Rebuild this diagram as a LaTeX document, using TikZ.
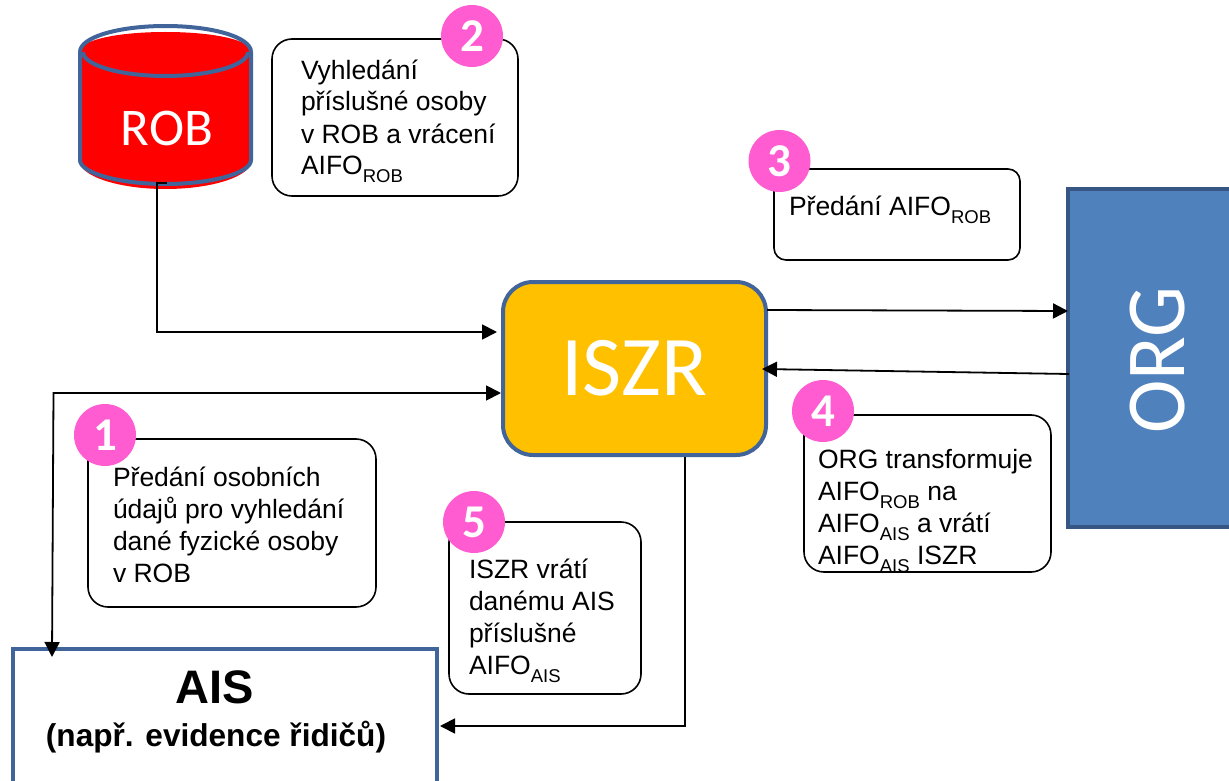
\documentclass[tikz,border=0pt]{standalone}
\usepackage{fontspec}
\setmainfont{Liberation Sans}
\newfontfamily\carl{Carlito}
\usetikzlibrary{arrows.meta,calc}
\definecolor{edgeblue}{HTML}{41659A}
\definecolor{orgblue}{HTML}{4F81BD}
\definecolor{pinkc}{HTML}{FF5CD2}
\definecolor{gold}{HTML}{FFC000}
\newcommand{\sbs}[1]{\raisebox{-8pt}{\fontsize{18.5}{18.5}\selectfont #1}}
\newcommand{\topst}{\rule{0pt}{20pt}}
\tikzset{
  x=1pt,y=-1pt,
  every node/.style={outer sep=0pt,inner sep=0pt},
  callout/.style={draw=black,line width=1.6pt,fill=white,rounded corners=20pt,anchor=north west},
  body/.style={anchor=north west,align=left,font=\fontsize{26.5}{32}\selectfont,text=black},
  badge/.style={circle,fill=pinkc,minimum size=62pt,text=white,font=\carl\bfseries\fontsize{47}{47}\selectfont},
  arr/.style={draw=black,line width=1.8pt,-{Triangle[length=15pt,width=15pt]}},
  biarr/.style={draw=black,line width=1.8pt,{Triangle[length=15pt,width=15pt]}-{Triangle[length=15pt,width=15pt]}},
  plain/.style={draw=edgeblue,line width=4pt},
}
\begin{document}
\begin{tikzpicture}
\useasboundingbox (0,0) rectangle (1229,781);
\clip (0,0) rectangle (1229,781);
% ROB cylinder
\fill[red] (79,52) -- (79,160) .. controls (79,176) and (118,189) .. (165.5,189) .. controls (213,189) and (252,176) .. (252,160) -- (252,52) .. controls (252,40) and (213,32) .. (165.5,32) .. controls (118,32) and (79,40) .. (79,52) -- cycle;
\draw[plain] (80,52) .. controls (80,37) and (119,26) .. (165.5,26) .. controls (212,26) and (251,37) .. (251,52);
\draw[plain] (83,52) .. controls (83,65) and (120,76) .. (165.5,76) .. controls (211,76) and (248,65) .. (248,52);
\draw[plain] (80,52) -- (80,160) .. controls (80,173) and (119,184) .. (165.5,184) .. controls (212,184) and (251,173) .. (251,160) -- (251,52);
\node[minimum width=174pt,minimum height=118pt,text=white,font=\carl\fontsize{53}{53}\selectfont] (rob) at (167,128) {ROB};
% Main boxes
\node[draw=edgeblue,fill=gold,line width=4pt,rounded corners=30pt,minimum width=263pt,minimum height=173pt,text=white,font=\carl\fontsize{85}{85}\selectfont] (iszr) at (634.5,368.5) {ISZR};
\node[draw=edgeblue!85!black,fill=orgblue,line width=4pt,minimum width=172pt,minimum height=338pt] (org) at (1154,358) {};
\node[rotate=90,text=white,font=\carl\fontsize{84}{84}\selectfont] (orglabel) at (1158,360) {\scalebox{.96}[1]{ORG}};
\node[draw=edgeblue,fill=white,line width=4pt,minimum width=424pt,minimum height=154pt] (ais) at (225,726) {};
\node[anchor=base,font=\bfseries\fontsize{47}{47}\selectfont] (aistitle) at (215,703) {AIS};
\node[anchor=base,font=\bfseries\fontsize{31.6}{32}\selectfont] (aissub) at (216,746) {(např. evidence řidičů)};
% Callouts
\node[callout,minimum width=246pt,minimum height=157pt] (c2) at (272,39) {};
\node[callout,rounded corners=12pt,minimum width=246pt,minimum height=91pt] (c3) at (774,169) {};
\node[callout,minimum width=247pt,minimum height=157pt] (c4) at (804,415) {};
\node[callout,minimum width=288pt,minimum height=168pt] (c1) at (88,439) {};
\node[callout,minimum width=192pt,minimum height=172pt] (c5) at (449,522) {};
% Callout text
\node[body] (t2) at (301,59) {\topst Vyhledání\\příslušné osoby\\v ROB a vrácení\\AIFO\sbs{ROB}};
\node[body] (t3) at (789,195) {\topst Předání AIFO\sbs{ROB}};
\begin{scope}
\clip (804,415) rectangle (1051,571);
\node[body] (t4) at (818,448) {\topst ORG transformuje\\AIFO\sbs{ROB} na\\AIFO\sbs{AIS} a vrátí\\AIFO\sbs{AIS} ISZR};
\end{scope}
\node[body] (t1) at (113,466) {\topst Předání osobních\\údajů pro vyhledání\\dané fyzické osoby\\v ROB};
\node[body] (t5) at (469,558) {\topst ISZR vrátí\\danému AIS\\příslušné\\AIFO\sbs{AIS}};
% Number badges
\node[badge] (n1) at (105,435) {1};
\node[badge] (n2) at (472,36) {2};
\node[badge] (n3) at (779.5,161) {3};
\node[badge] (n4) at (823,411) {4};
\node[badge] (n5) at (474,522) {5};
% Connectors
\draw[arr] ($(rob.south)+(0,-4)$) -- ++(-10,0) |- ($(iszr.west)+(-6,-36.5)$);
\draw[biarr] ($(ais.north west)+(39,8)$) -- ($(iszr.west)+(-449.5,24.5)$) -- ($(iszr.west)+(-2,24.5)$);
\draw[arr] ($(iszr.south)+(50.5,2)$) |- ($(ais.east)+(3,0)$);
\draw[arr] ($(iszr.east)+(1,-58.5)$) -- ($(org.west)+(0,-47)$);
\draw[arr] ($(org.west)+(1,16)$) -- ($(iszr.east)+(-4,0.5)$);
\end{tikzpicture}
\end{document}
